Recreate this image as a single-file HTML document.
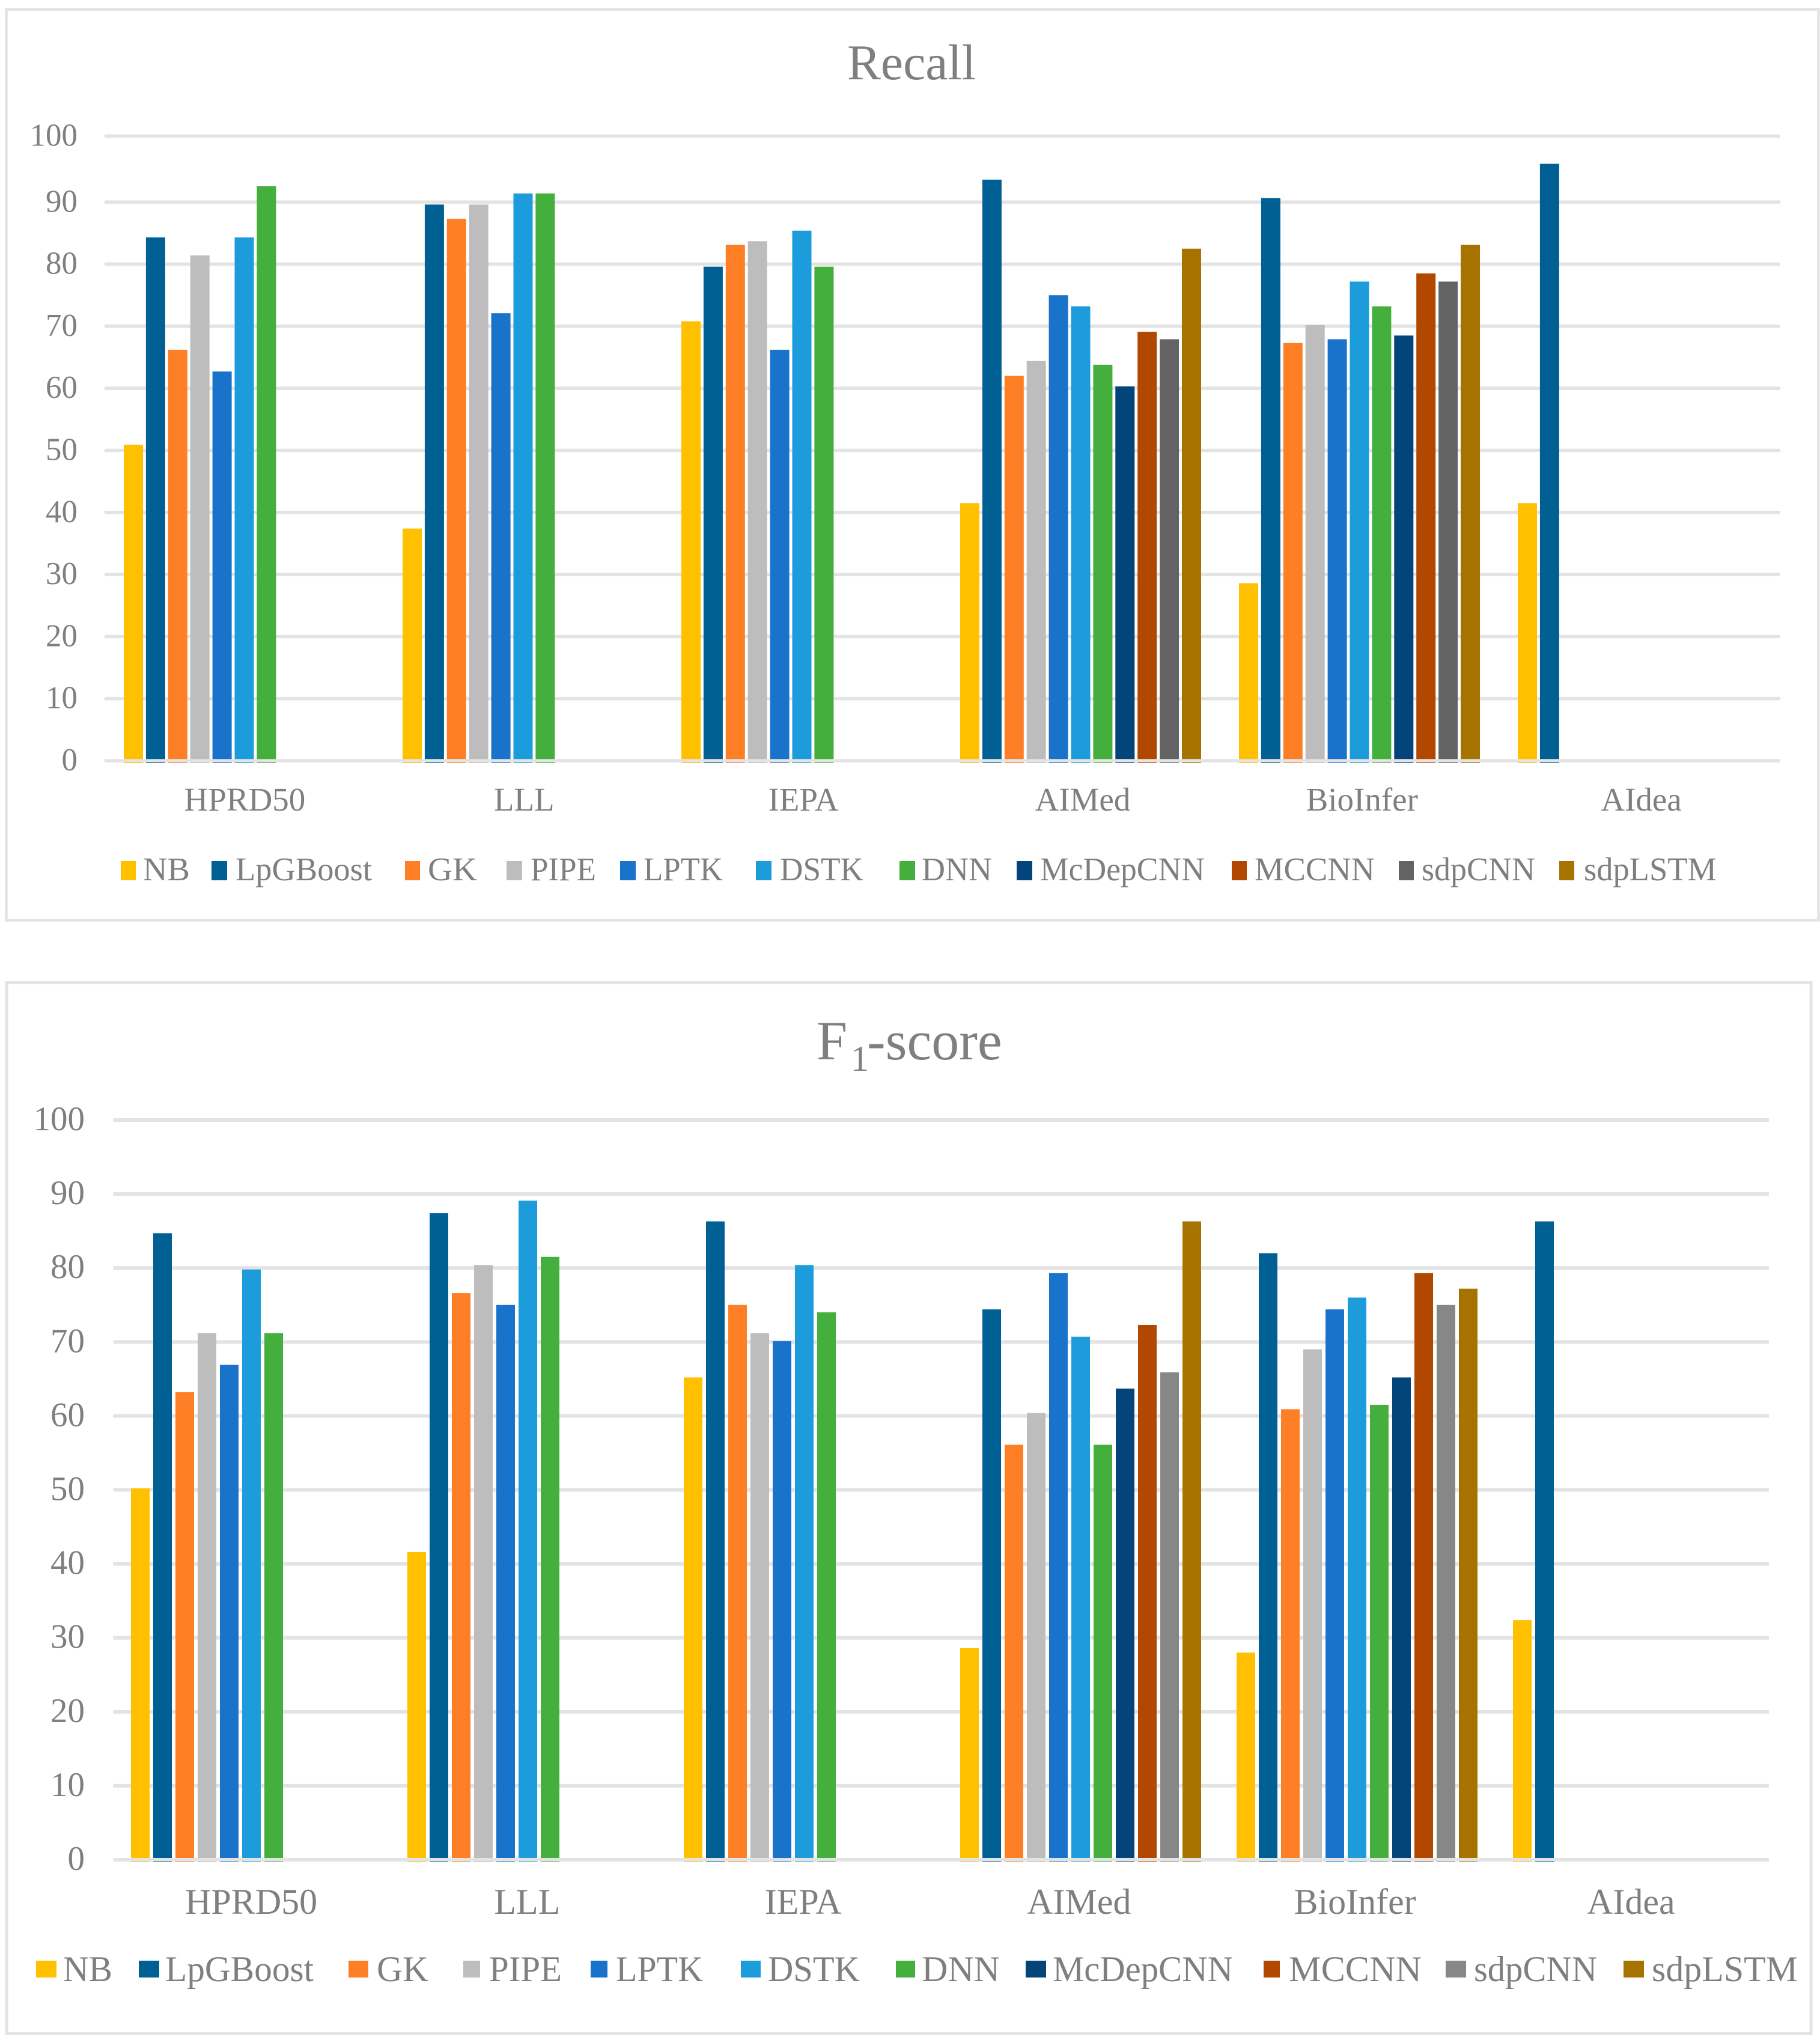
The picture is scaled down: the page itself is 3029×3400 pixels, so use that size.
<!DOCTYPE html>
<html lang="en">
<head>
<meta charset="utf-8">
<title>Recall and F1-score comparison</title>
<style>
html,body{margin:0;padding:0;background:#fff;}
svg{display:block;}
text{font-family:"Liberation Serif",serif;fill:#7f7f7f;}
</style>
</head>
<body>
<svg id="chart-root" xmlns="http://www.w3.org/2000/svg" width="3029" height="3400" viewBox="0 0 3029 3400">
  <rect x="0" y="0" width="3029" height="3400" fill="#ffffff"/>

  <g id="recall-panel">
    <rect x="10.5" y="15.5" width="3016" height="1516" fill="#ffffff" stroke="#e3e3e3" stroke-width="4.5"/>
    <text x="1410" y="132" font-size="84" textLength="214" lengthAdjust="spacingAndGlyphs">Recall</text>
    <g id="recall-marks"></g>
    <g>
      <g><rect x="201" y="1433" width="25" height="32" fill="#ffc000"/><text x="238" y="1465" font-size="55" textLength="78" lengthAdjust="spacingAndGlyphs">NB</text></g>
      <g><rect x="352" y="1433" width="26" height="32" fill="#005f93"/><text x="392" y="1465" font-size="55" textLength="227" lengthAdjust="spacingAndGlyphs">LpGBoost</text></g>
      <g><rect x="674" y="1433" width="25" height="32" fill="#ff7f27"/><text x="712" y="1465" font-size="55" textLength="82" lengthAdjust="spacingAndGlyphs">GK</text></g>
      <g><rect x="843" y="1433" width="26" height="32" fill="#bdbdbd"/><text x="883" y="1465" font-size="55" textLength="109" lengthAdjust="spacingAndGlyphs">PIPE</text></g>
      <g><rect x="1032" y="1433" width="26" height="32" fill="#1a73cb"/><text x="1071" y="1465" font-size="55" textLength="132" lengthAdjust="spacingAndGlyphs">LPTK</text></g>
      <g><rect x="1258" y="1433" width="26" height="32" fill="#1d9cdb"/><text x="1298" y="1465" font-size="55" textLength="139" lengthAdjust="spacingAndGlyphs">DSTK</text></g>
      <g><rect x="1497" y="1433" width="26" height="32" fill="#44af3c"/><text x="1534" y="1465" font-size="55" textLength="117" lengthAdjust="spacingAndGlyphs">DNN</text></g>
      <g><rect x="1692" y="1433" width="26" height="32" fill="#03457a"/><text x="1731" y="1465" font-size="55" textLength="274" lengthAdjust="spacingAndGlyphs">McDepCNN</text></g>
      <g><rect x="2050" y="1433" width="25" height="32" fill="#b24700"/><text x="2088" y="1465" font-size="55" textLength="200" lengthAdjust="spacingAndGlyphs">MCCNN</text></g>
      <g><rect x="2328" y="1433" width="25" height="32" fill="#636363"/><text x="2366" y="1465" font-size="55" textLength="189" lengthAdjust="spacingAndGlyphs">sdpCNN</text></g>
      <g><rect x="2595" y="1433" width="25" height="32" fill="#a67300"/><text x="2636" y="1465" font-size="55" textLength="221" lengthAdjust="spacingAndGlyphs">sdpLSTM</text></g>
    </g>
  </g>

  <g id="f1-panel">
    <rect x="11" y="1635.5" width="3003" height="1749" fill="#ffffff" stroke="#e3e3e3" stroke-width="5"/>
    <text y="1763" font-size="92"><tspan x="1359">F</tspan><tspan x="1416" y="1782" font-size="60">1</tspan><tspan x="1443" y="1763">-score</tspan></text>
    <g id="f1-marks"></g>
    <g>
      <g><rect x="60" y="3263" width="34" height="28" fill="#ffc000"/><text x="105" y="3297" font-size="60" textLength="82" lengthAdjust="spacingAndGlyphs">NB</text></g>
      <g><rect x="231" y="3263" width="34" height="28" fill="#005f93"/><text x="275" y="3297" font-size="60" textLength="247" lengthAdjust="spacingAndGlyphs">LpGBoost</text></g>
      <g><rect x="580" y="3263" width="33" height="28" fill="#ff7f27"/><text x="627" y="3297" font-size="60" textLength="86" lengthAdjust="spacingAndGlyphs">GK</text></g>
      <g><rect x="771" y="3263" width="28" height="28" fill="#bdbdbd"/><text x="814" y="3297" font-size="60" textLength="121" lengthAdjust="spacingAndGlyphs">PIPE</text></g>
      <g><rect x="983" y="3263" width="28" height="28" fill="#1a73cb"/><text x="1025" y="3297" font-size="60" textLength="145" lengthAdjust="spacingAndGlyphs">LPTK</text></g>
      <g><rect x="1233" y="3263" width="33" height="28" fill="#1d9cdb"/><text x="1278" y="3297" font-size="60" textLength="153" lengthAdjust="spacingAndGlyphs">DSTK</text></g>
      <g><rect x="1491" y="3263" width="32" height="28" fill="#44af3c"/><text x="1534" y="3297" font-size="60" textLength="130" lengthAdjust="spacingAndGlyphs">DNN</text></g>
      <g><rect x="1707" y="3263" width="34" height="28" fill="#03457a"/><text x="1752" y="3297" font-size="60" textLength="300" lengthAdjust="spacingAndGlyphs">McDepCNN</text></g>
      <g><rect x="2103" y="3263" width="27" height="28" fill="#b24700"/><text x="2145" y="3297" font-size="60" textLength="221" lengthAdjust="spacingAndGlyphs">MCCNN</text></g>
      <g><rect x="2406" y="3263" width="34" height="28" fill="#878787"/><text x="2453" y="3297" font-size="60" textLength="205" lengthAdjust="spacingAndGlyphs">sdpCNN</text></g>
      <g><rect x="2702" y="3263" width="34" height="28" fill="#a67300"/><text x="2749" y="3297" font-size="60" textLength="243" lengthAdjust="spacingAndGlyphs">sdpLSTM</text></g>
    </g>
  </g>
</svg>
<script>
const categories = ['HPRD50', 'LLL', 'IEPA', 'AIMed', 'BioInfer', 'AIdea'];
const yTicks = [0, 10, 20, 30, 40, 50, 60, 70, 80, 90, 100];
const seriesNames = ['NB', 'LpGBoost', 'GK', 'PIPE', 'LPTK', 'DSTK', 'DNN', 'McDepCNN', 'MCCNN', 'sdpCNN', 'sdpLSTM'];

const recallNB = [50.9, 37.4, 70.8, 41.5, 28.6, 41.5];
const recallLpGBoost = [84.3, 89.6, 79.6, 93.4, 90.6, 95.8];
const recallGK = [66.2, 87.3, 83.1, 62.0, 67.3, null];
const recallPIPE = [81.4, 89.6, 83.7, 64.4, 70.2, null];
const recallLPTK = [62.7, 72.1, 66.2, 75.0, 67.9, null];
const recallDSTK = [84.3, 91.3, 85.4, 73.2, 77.2, null];
const recallDNN = [92.4, 91.3, 79.6, 63.8, 73.2, null];
const recallMcDepCNN = [null, null, null, 60.3, 68.5, null];
const recallMCCNN = [null, null, null, 69.1, 78.5, null];
const recallSdpCNN = [null, null, null, 67.9, 77.2, null];
const recallSdpLSTM = [null, null, null, 82.5, 83.1, null];

const f1NB = [50.2, 41.6, 65.2, 28.6, 28.0, 32.4];
const f1LpGBoost = [84.7, 87.4, 86.3, 74.4, 82.0, 86.3];
const f1GK = [63.2, 76.6, 75.0, 56.1, 60.9, null];
const f1PIPE = [71.2, 80.4, 71.2, 60.4, 69.0, null];
const f1LPTK = [66.9, 75.0, 70.1, 79.3, 74.4, null];
const f1DSTK = [79.8, 89.1, 80.4, 70.7, 76.0, null];
const f1DNN = [71.2, 81.5, 74.0, 56.1, 61.5, null];
const f1McDepCNN = [null, null, null, 63.7, 65.2, null];
const f1MCCNN = [null, null, null, 72.3, 79.3, null];
const f1SdpCNN = [null, null, null, 65.9, 75.0, null];
const f1SdpLSTM = [null, null, null, 86.3, 77.2, null];

const recallSeries = [recallNB, recallLpGBoost, recallGK, recallPIPE, recallLPTK, recallDSTK, recallDNN, recallMcDepCNN, recallMCCNN, recallSdpCNN, recallSdpLSTM];
const f1Series = [f1NB, f1LpGBoost, f1GK, f1PIPE, f1LPTK, f1DSTK, f1DNN, f1McDepCNN, f1MCCNN, f1SdpCNN, f1SdpLSTM];

const recallColors = ['#ffc000', '#005f93', '#ff7f27', '#bdbdbd', '#1a73cb', '#1d9cdb', '#44af3c', '#03457a', '#b24700', '#636363', '#a67300'];
const f1Colors = ['#ffc000', '#005f93', '#ff7f27', '#bdbdbd', '#1a73cb', '#1d9cdb', '#44af3c', '#03457a', '#b24700', '#878787', '#a67300'];

const SVG_NS = 'http://www.w3.org/2000/svg';

function slug(s) {
  return s.toLowerCase();
}

function svgEl(tag, parent, attrs) {
  const el = document.createElementNS(SVG_NS, tag);
  for (const k in attrs) el.setAttribute(k, attrs[k]);
  parent.appendChild(el);
  return el;
}

/* Recall axis: evenly spaced up to 90; the printed 100 gridline sits slightly higher in the figure. */
function recallY(v) {
  const y0 = 1266, step = 10.33, y90 = y0 - 90 * step, y100 = 226.5;
  if (v <= 90) return y0 - v * step;
  return y90 - (v - 90) * (y90 - y100) / 10;
}

function f1Y(v) {
  return 3095 - v * 12.31;
}

function drawChart(prefix, parent, series, colors, yScale, o) {
  yTicks.forEach(function (t) {
    const gy = yScale(t);
    if (t !== 0) {
      const line = svgEl('rect', parent, { x: o.gridLeft, y: gy - o.gridH / 2, width: o.gridRight - o.gridLeft, height: o.gridH, fill: '#e3e3e3' });
      
      
    }
    const label = svgEl('text', parent, { x: o.tickRight, y: gy + o.tickDy, 'font-size': o.tickFont, 'text-anchor': 'end' });
    label.textContent = String(t);
    
    
  });

  const slotW = (o.gridRight - o.gridLeft) / categories.length;
  categories.forEach(function (cat, c) {
    const groupX = o.barStart + c * o.groupStep;
    series.forEach(function (values, s) {
      const v = values[c];
      if (v === null) return;
      const top = yScale(v);
      const bar = svgEl('rect', parent, { x: groupX + s * o.barStep, y: top, width: o.barW, height: yScale(0) + o.barOver - top, fill: colors[s] });
      
      
    });
    const catLabel = svgEl('text', parent, { x: o.gridLeft + slotW * (c + 0.5) + o.catDx, y: o.catY, 'font-size': o.catFont, 'text-anchor': 'middle' });
    catLabel.textContent = cat;
    
    
  });

  const axis = svgEl('rect', parent, { x: o.gridLeft, y: yScale(0) - o.gridH / 2, width: o.gridRight - o.gridLeft, height: o.gridH, fill: '#e3e3e3' });
  
  
}

drawChart('recall', document.getElementById('recall-marks'), recallSeries, recallColors, recallY, {
  gridLeft: 174, gridRight: 2963, gridH: 5.5, tickRight: 129, tickDy: 16, tickFont: 53,
  barStart: 206, groupStep: 464, barStep: 36.9, barW: 32, barOver: 4,
  catY: 1349, catFont: 55, catDx: 1
});

drawChart('f1', document.getElementById('f1-marks'), f1Series, f1Colors, f1Y, {
  gridLeft: 188.5, gridRight: 2944, gridH: 6, tickRight: 141, tickDy: 17, tickFont: 57,
  barStart: 218, groupStep: 460, barStep: 37, barW: 31, barOver: 4,
  catY: 3185, catFont: 60, catDx: 0
});
</script>
</body>
</html>
